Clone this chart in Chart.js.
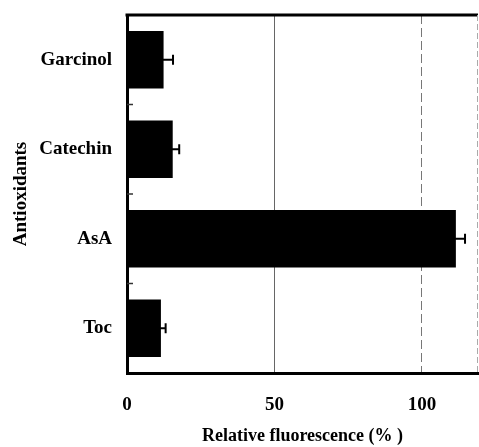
<!DOCTYPE html>
<html>
<head>
<meta charset="utf-8">
<script src="https://cdn.jsdelivr.net/npm/chart.js"></script>
<style>
    html, body { margin: 0; padding: 0; background: #fff; }
    #wrap { width: 479px; height: 447px; }
</style>
</head>
<body>
<div id="wrap"><canvas id="chart"></canvas></div>
<script>
const antioxidants = ['Garcinol', 'Catechin', 'AsA', 'Toc'];
const fluorescence = [12.4, 15.5, 111.5, 11.5];
const fluorescenceErr = [3.2, 2.2, 3.1, 1.6];
const xTicks = [0, 50, 100];

const serif = "'Liberation Serif', 'Times New Roman', serif";

// error bars (one per bar, drawn through the scales)
const errorBars = {
    id: 'errorBars',
    afterDatasetsDraw(chart) {
        const ctx = chart.ctx;
        const x = chart.scales.x, y = chart.scales.y;
        ctx.save();
        ctx.strokeStyle = '#000';
        ctx.lineWidth = 2;
        fluorescence.forEach((v, i) => {
            const yc = y.getPixelForValue(i);
            const lo = x.getPixelForValue(v - fluorescenceErr[i]);
            const hi = x.getPixelForValue(v + fluorescenceErr[i]);
            ctx.beginPath();
            ctx.moveTo(lo, yc);
            ctx.lineTo(hi, yc);
            ctx.moveTo(hi, yc - 5);
            ctx.lineTo(hi, yc + 5);
            ctx.stroke();
        });
        ctx.restore();
    }
};

// frame top/right + small inside ticks between categories
const frame = {
    id: 'frame',
    afterDraw(chart) {
        const ctx = chart.ctx;
        const a = chart.chartArea;
        const y = chart.scales.y;
        ctx.save();
        ctx.strokeStyle = '#000';
        ctx.lineWidth = 3;
        ctx.beginPath();
        ctx.moveTo(a.left - 1.5, a.top);
        ctx.lineTo(a.right, a.top);
        ctx.stroke();

        ctx.strokeStyle = '#aaa';
        ctx.lineWidth = 1;
        ctx.setLineDash([6, 3]);
        ctx.beginPath();
        ctx.moveTo(a.right - 0.5, a.top);
        ctx.lineTo(a.right - 0.5, a.bottom);
        ctx.stroke();
        ctx.setLineDash([]);

        ctx.strokeStyle = '#333';
        ctx.lineWidth = 1.5;
        for (let i = 0; i < antioxidants.length - 1; i++) {
            const yy = (y.getPixelForValue(i) + y.getPixelForValue(i + 1)) / 2;
            ctx.beginPath();
            ctx.moveTo(a.left, yy);
            ctx.lineTo(a.left + 6, yy);
            ctx.stroke();
        }
        ctx.restore();
    }
};

new Chart(document.getElementById('chart'), {
    type: 'bar',
    data: {
        labels: antioxidants,
        datasets: [{
            data: fluorescence,
            backgroundColor: '#000',
            borderWidth: 0,
            barPercentage: 0.64,
            categoryPercentage: 1
        }]
    },
    options: {
        indexAxis: 'y',
        responsive: true,
        maintainAspectRatio: false,
        animation: false,
        layout: { padding: { left: 0, right: 1, top: 15, bottom: 0 } },
        plugins: {
            legend: { display: false },
            tooltip: { enabled: false }
        },
        scales: {
            x: {
                min: 0,
                max: 119,
                afterBuildTicks: (scale) => {
                    scale.ticks = xTicks.map(v => ({ value: v }));
                },
                afterFit: (scale) => { scale.height = 74; },
                grid: {
                    drawTicks: false,
                    color: (c) => {
                        if (!c.tick) return 'rgba(0,0,0,0)';
                        if (c.tick.value === 50) return '#666';
                        if (c.tick.value === 100) return '#777';
                        return 'rgba(0,0,0,0)';
                    },
                    lineWidth: 1
                },
                border: {
                    display: true,
                    color: '#000',
                    width: 3,
                    dash: (c) => (c.tick && c.tick.value === 100) ? [9, 4] : []
                },
                ticks: {
                    padding: 21,
                    color: '#000',
                    font: { family: serif, size: 19, weight: 'bold' }
                },
                title: {
                    display: true,
                    text: 'Relative fluorescence (% )',
                    color: '#000',
                    padding: 0,
                    font: { family: serif, size: 18, weight: 'bold' }
                }
            },
            y: {
                afterFit: (scale) => {
                    scale.width = 127;
                    scale.paddingTop = 0;
                    scale.paddingBottom = 0;
                },
                grid: { display: false },
                border: { display: true, color: '#000', width: 3 },
                ticks: {
                    padding: 7,
                    color: '#000',
                    font: { family: serif, size: 19, weight: 'bold' }
                },
                title: {
                    display: true,
                    text: 'Antioxidants',
                    color: '#000',
                    padding: { top: 10 },
                    font: { family: serif, size: 19, weight: 'bold' }
                }
            }
        }
    },
    plugins: [errorBars, frame]
});
</script>
</body>
</html>
